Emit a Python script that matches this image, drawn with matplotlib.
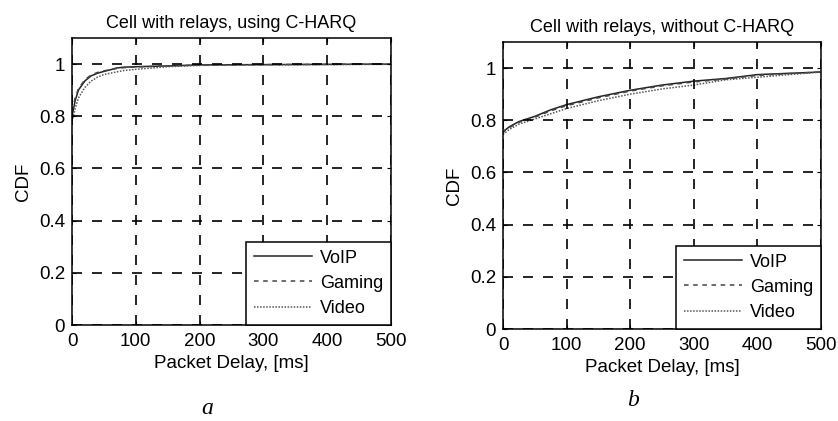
import matplotlib
matplotlib.use("Agg")
import matplotlib.pyplot as plt

# Left panel: Cell with relays, using C-HARQ
delay_a = [0, 5, 10, 20, 30, 40, 50, 60, 70, 80, 100, 150, 200, 300, 400, 500]
voip_a = [0.80, 0.86, 0.90, 0.935, 0.955, 0.965, 0.972, 0.978, 0.985, 0.988, 0.990, 0.993, 0.997, 0.998, 0.999, 1.0]
gaming_a = [0.82, 0.87, 0.905, 0.94, 0.958, 0.968, 0.974, 0.979, 0.983, 0.986, 0.989, 0.993, 0.996, 0.998, 0.999, 1.0]
video_a = [0.78, 0.83, 0.87, 0.91, 0.935, 0.95, 0.96, 0.965, 0.970, 0.975, 0.980, 0.990, 0.995, 0.997, 0.998, 0.999]

# Right panel: Cell with relays, without C-HARQ
delay_b = [0, 2, 10, 25, 50, 75, 100, 150, 200, 250, 300, 350, 400, 450, 500]
voip_b = [0.75, 0.76, 0.775, 0.795, 0.815, 0.84, 0.86, 0.89, 0.915, 0.935, 0.950, 0.960, 0.975, 0.980, 0.985]
gaming_b = [0.75, 0.76, 0.772, 0.792, 0.812, 0.836, 0.856, 0.886, 0.912, 0.932, 0.947, 0.958, 0.972, 0.979, 0.985]
video_b = [0.745, 0.75, 0.765, 0.785, 0.805, 0.825, 0.845, 0.875, 0.900, 0.920, 0.935, 0.955, 0.965, 0.975, 0.985]

series_names = ["VoIP", "Gaming", "Video"]
xticks = [0, 100, 200, 300, 400, 500]
yticks = [0, 0.2, 0.4, 0.6, 0.8, 1.0]
ytick_labels = ["0", "0.2", "0.4", "0.6", "0.8", "1"]

fig = plt.figure(figsize=(8.38, 4.21), dpi=100)
plt.rcParams['font.family'] = ['Liberation Sans', 'DejaVu Sans']

ax_a = fig.add_axes([72/838, 1-325/421, (391-72)/838, (325-38)/421])
ax_b = fig.add_axes([503/838, 1-329/421, (821-503)/838, (329-42)/421])

styles = [dict(color="#222222", lw=1.1, ls="-"),
          dict(color="#444444", lw=1.1, ls=(0, (3, 3))),
          dict(color="#555555", lw=1.1, ls=(0, (1, 1)))]

panels = [
    (ax_a, delay_a, [voip_a, gaming_a, video_a], "Cell with relays, using C-HARQ", "a"),
    (ax_b, delay_b, [voip_b, gaming_b, video_b], "Cell with relays, without C-HARQ", "b"),
]

for ax, x, ys, title, lab in panels:
    for y, name, st in zip(ys, series_names, styles):
        ax.plot(x, y, label=name, **st)
    ax.set_xlim(0, 500)
    ax.set_ylim(0, 1.1)
    ax.set_xticks(xticks)
    ax.set_yticks(yticks)
    ax.set_yticklabels(ytick_labels)
    ax.tick_params(labelsize=13.5, length=3, direction="in", top=True, right=True)
    ax.tick_params(axis="x", pad=6)
    ax.tick_params(axis="y", pad=5)
    ax.grid(True, color="black", ls=(0, (6, 6)), lw=1.2)
    ax.set_axisbelow(False)
    for s in ax.spines.values():
        s.set_linewidth(1.1)
    ax.set_title(title, fontsize=13, pad=7)
    ax.set_xlabel("Packet Delay, [ms]", fontsize=13.5, labelpad=3)
    ax.set_ylabel("CDF", fontsize=13.5, labelpad=5)
    leg = ax.legend(loc="lower right", borderaxespad=0, fontsize=13, fancybox=False,
                    framealpha=1, edgecolor="black", handlelength=3.2, handletextpad=0.45,
                    labelspacing=0.45, borderpad=0.45)
    leg.get_frame().set_linewidth(1.1)

fig.text(207/838, 1-408/421, "a", fontsize=17, style="italic",
         family="Liberation Serif", ha="center", va="center")
fig.text(633/838, 1-400/421, "b", fontsize=17, style="italic",
         family="Liberation Serif", ha="center", va="center")

fig.savefig("out.png", dpi=100)
